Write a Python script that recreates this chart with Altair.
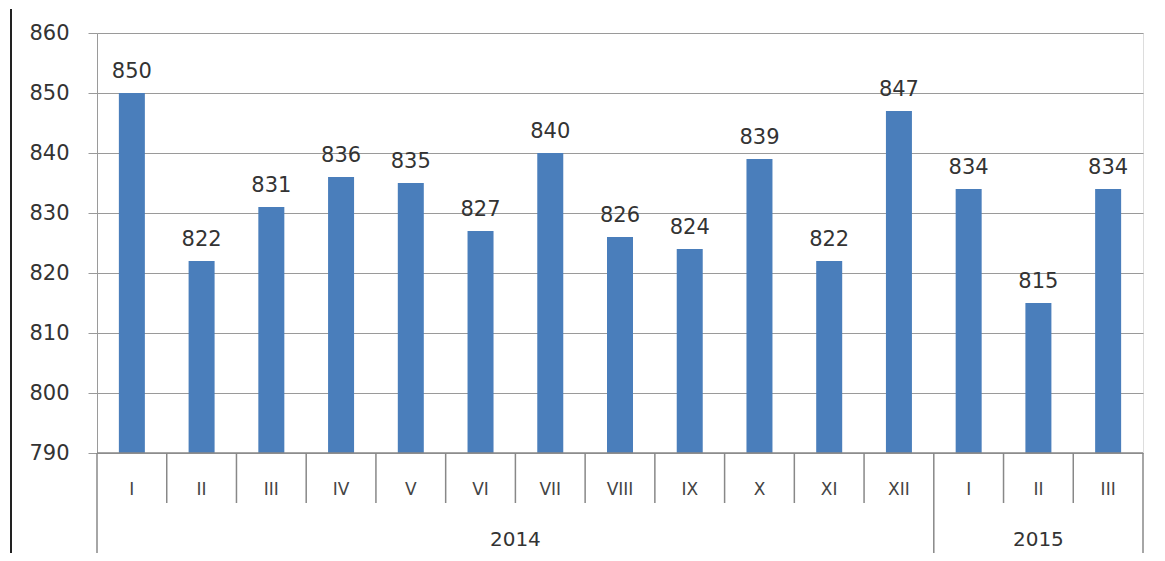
import altair as alt
import pandas as pd

months = ["I", "II", "III", "IV", "V", "VI", "VII", "VIII", "IX", "X", "XI", "XII", "I", "II", "III"]
values = [850, 822, 831, 836, 835, 827, 840, 826, 824, 839, 822, 847, 834, 815, 834]
years = ["2014"] * 12 + ["2015"] * 3
year_labels = ["2014", "2015"]
year_spans = [(0, 12), (12, 15)]
y_ticks = [790, 800, 810, 820, 830, 840, 850, 860]

FONT = "DejaVu Sans"
TXT = "#333333"
GRID = "#9a9a9a"

df = pd.DataFrame({"idx": range(len(months)), "month": months, "value": values, "year": years})
df["pos"] = df["idx"] + 0.5

short_bounds = pd.DataFrame({"b": [i for i in range(1, 15) if i != 12]})
long_bounds = pd.DataFrame({"b": [0, 12, 15]})
ydf = pd.DataFrame({"year": year_labels,
                    "mid": [(a + b) / 2 for a, b in year_spans]})

xs = alt.Scale(domain=[0, 15], nice=False, zero=False, padding=0)
ys = alt.Scale(domain=[790, 860], nice=False, zero=False, padding=0)

base = alt.Chart(df)

bars = base.mark_bar(width=26, color="#4A7EBB").encode(
    x=alt.X("pos:Q", scale=xs, axis=None),
    y=alt.Y("value:Q", scale=ys, axis=alt.Axis(
        values=y_ticks, title=None, grid=True, gridColor=GRID, gridWidth=1,
        domainColor=GRID, tickColor=GRID, tickSize=9, labelPadding=19,
        labelFont=FONT, labelFontSize=21, labelColor=TXT)),
    y2=alt.datum(790),
)

labels = base.mark_text(font=FONT, fontSize=21, color=TXT, baseline="alphabetic", dy=-15).encode(
    x=alt.X("pos:Q", scale=xs),
    y=alt.Y("value:Q", scale=ys),
    text="value:Q",
)

mlabels = base.mark_text(font=FONT, fontSize=17, color="#444444", baseline="middle").encode(
    x=alt.X("pos:Q", scale=xs),
    y=alt.value(457),
    text="month:N",
)

bottom_line = alt.Chart(pd.DataFrame({"v": [790]})).mark_rule(color="#888888", strokeWidth=1.5).encode(
    y=alt.Y("v:Q", scale=ys),
)

sdiv = alt.Chart(short_bounds).mark_rule(color="#888888", strokeWidth=1.5).encode(
    x=alt.X("b:Q", scale=xs),
    y=alt.value(420), y2=alt.value(470),
)
ldiv = alt.Chart(long_bounds).mark_rule(color="#888888", strokeWidth=1.5).encode(
    x=alt.X("b:Q", scale=xs),
    y=alt.value(420), y2=alt.value(520),
)

ylabels = alt.Chart(ydf).mark_text(font=FONT, fontSize=20, color=TXT, baseline="middle").encode(
    x=alt.X("mid:Q", scale=xs),
    y=alt.value(507),
    text="year:N",
)

edge = alt.Chart(pd.DataFrame({"a": [0]})).mark_rule(color="#222222", strokeWidth=2).encode(
    x=alt.value(-86), y=alt.value(-24), y2=alt.value(520),
)

chart = alt.layer(bars, labels, mlabels, bottom_line, sdiv, ldiv, ylabels, edge).properties(
    width=1046, height=420,
    autosize=alt.AutoSizeParams(type="none"),
    padding={"left": 89, "top": 25, "right": 10, "bottom": 100},
).configure_view(stroke=None).configure(background="white")

chart.save("out.html", embed_options={"renderer": "svg", "actions": False})
